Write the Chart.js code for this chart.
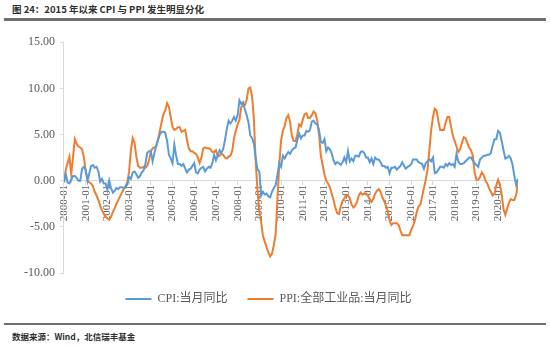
<!DOCTYPE html>
<html><head><meta charset="utf-8">
<script src="https://cdn.jsdelivr.net/npm/chart.js@4.4.0/dist/chart.umd.min.js"></script>
<style>
html,body{margin:0;padding:0;background:#fff;}
#page{position:relative;width:550px;height:347px;overflow:hidden;background:#fff;}
#title{position:absolute;left:12px;top:2px;font:bold 9.5px "Noto Sans CJK SC","DejaVu Sans",sans-serif;color:#2e2e2e;white-space:nowrap;}
#rule1{position:absolute;left:4px;width:542px;top:18px;height:3px;background:#6e6e6e;}
#rule2{position:absolute;left:4px;width:542px;top:323px;height:2px;background:#6e6e6e;}
#source{position:absolute;left:12px;top:330px;font:bold 8.5px "Noto Sans CJK SC","DejaVu Sans",sans-serif;color:#2e2e2e;white-space:nowrap;z-index:2;}
#cv{position:absolute;left:0;top:30px;}
</style></head>
<body><div id="page">
<div id="title">图 24：2015 年以来 CPI 与 PPI 发生明显分化</div>
<div id="rule1"></div>
<canvas id="cv" width="550" height="285"></canvas>
<div id="rule2"></div>
<div id="source">数据来源：Wind，北信瑞丰基金</div>
</div>
<script>
// Monthly YoY values, 2000-01 .. 2020-12
const startYear = 2000;
const tickLabels = ['2000-01','2001-01','2002-01','2003-01','2004-01','2005-01','2006-01','2007-01','2008-01','2009-01','2010-01','2011-01','2012-01','2013-01','2014-01','2015-01','2016-01','2017-01','2018-01','2019-01','2020-01'];
const seriesNames = ['CPI:当月同比', 'PPI:全部工业品:当月同比'];

const cpi2000s = [
 -0.2,0.7,-0.2,-0.3,0.1,0.5,0.5,0.3,0.0,0.0,1.3,1.5,
 1.2,0.0,0.8,1.6,1.7,1.4,1.5,1.0,-0.1,0.2,-0.3,-0.3,
 -1.0,0.0,-0.8,-1.3,-1.1,-0.8,-0.9,-0.7,-0.7,-0.8,-0.7,-0.4,
 0.4,0.2,0.9,1.0,0.7,0.3,0.5,0.9,1.1,1.8,3.0,3.2,
 3.2,2.1,3.0,3.8,4.4,5.0,5.3,5.3,5.2,4.3,2.8,2.4,
 1.9,3.9,2.7,1.8,1.8,1.6,1.8,1.3,0.9,1.2,1.3,1.6,
 1.9,0.9,0.8,1.2,1.4,1.5,1.0,1.3,1.5,1.4,1.9,2.8,
 2.2,2.7,3.3,3.0,3.4,4.4,5.6,6.5,6.2,6.5,6.9,6.5,
 7.1,8.7,8.3,8.5,7.7,7.1,6.3,4.9,4.6,4.0,2.4,1.2,
 1.0,-1.6,-1.2,-1.5,-1.4,-1.7,-1.8,-1.2,-0.8,-0.5,0.6,1.9
];
const cpi2010s = [
 1.5,2.7,2.4,2.8,3.1,2.9,3.3,3.5,3.6,4.4,5.1,4.6,
 4.9,4.9,5.4,5.3,5.5,6.4,6.5,6.2,6.1,5.5,4.2,4.1,
 4.5,3.2,3.6,3.4,3.0,2.2,1.8,2.0,1.9,1.7,2.0,2.5,
 2.0,3.2,2.1,2.4,2.1,2.7,2.7,2.6,3.1,3.2,3.0,2.5,
 2.5,2.0,2.4,1.8,2.5,2.3,2.3,2.0,1.6,1.6,1.4,1.5,
 0.8,1.4,1.4,1.5,1.2,1.4,1.6,2.0,1.6,1.3,1.5,1.6,
 1.8,2.3,2.3,2.3,2.0,1.9,1.8,1.3,1.9,2.1,2.3,2.1,
 2.5,0.8,0.9,1.2,1.5,1.5,1.4,1.8,1.6,1.9,1.7,1.8,
 1.5,2.9,2.1,1.8,1.8,1.9,2.1,2.3,2.5,2.5,2.2,1.9,
 1.7,1.5,2.3,2.5,2.7,2.7,2.8,2.8,3.0,3.8,4.5,4.5,
 5.4,5.2,4.3,3.3,2.4,2.5,2.7,2.4,1.7,0.5,-0.5,0.2
];
const ppi2000s = [
 0.0,1.2,1.9,2.6,0.7,2.6,4.5,4.0,3.7,3.6,3.4,2.5,
 1.0,0.0,-0.2,-0.3,-0.6,-1.2,-1.6,-2.1,-2.7,-3.2,-3.6,-3.9,
 -4.1,-4.2,-3.9,-3.4,-3.0,-2.5,-2.1,-1.7,-1.3,-0.9,-0.6,-0.2,
 1.0,3.3,4.6,4.1,2.6,1.6,1.4,1.4,1.5,1.4,1.6,2.2,
 3.2,3.5,3.6,3.7,4.5,5.4,6.4,7.2,7.6,8.4,8.0,6.9,
 5.8,5.5,5.6,5.8,5.8,5.3,5.4,5.5,4.4,3.5,3.2,3.2,
 3.0,2.9,2.5,1.9,2.5,3.5,3.6,3.5,3.5,3.4,3.1,3.1,
 3.3,2.6,2.7,2.9,2.8,2.5,2.4,2.6,2.7,3.2,4.6,5.4,
 6.1,6.6,8.0,8.1,8.2,8.8,10.0,10.1,9.1,6.6,2.0,-1.1,
 -3.3,-4.5,-6.0,-6.6,-7.2,-7.8,-8.2,-7.9,-7.0,-5.8,-2.1,1.7
];
const ppi2010s = [
 4.3,5.4,5.9,6.8,7.1,6.4,4.8,4.3,4.3,5.0,6.1,5.9,
 6.6,7.2,7.3,6.8,6.8,7.1,7.5,7.3,6.5,5.0,2.7,1.7,
 0.7,0.0,-0.3,-0.7,-1.4,-2.1,-2.9,-3.5,-3.6,-2.8,-2.2,-1.9,
 -1.6,-1.6,-1.9,-2.6,-2.9,-2.7,-2.3,-1.6,-1.3,-1.5,-1.4,-1.4,
 -1.6,-2.0,-2.3,-2.0,-1.4,-1.1,-0.9,-1.2,-1.8,-2.2,-2.7,-3.3,
 -4.3,-4.8,-4.6,-4.6,-4.6,-4.8,-5.4,-5.9,-5.9,-5.9,-5.9,-5.9,
 -5.3,-4.9,-4.3,-3.4,-2.8,-2.6,-1.7,-0.8,0.1,1.2,3.3,5.5,
 6.9,7.8,7.6,6.4,5.5,5.5,5.5,6.3,6.9,6.9,5.8,4.9,
 4.3,3.7,3.1,3.4,4.1,4.7,4.6,4.1,3.6,3.3,2.7,0.9,
 0.1,0.1,0.4,0.9,0.6,0.0,-0.3,-0.8,-1.2,-1.6,-1.4,-0.5,
 0.1,-0.4,-1.5,-3.1,-3.7,-3.0,-2.4,-2.0,-2.1,-2.1,-1.5,-0.4
];

const cpi = cpi2000s.concat(cpi2010s);
const ppi = ppi2000s.concat(ppi2010s);
const toPts = arr => arr.map((v, i) => ({x: i, y: v}));
const lastIndex = cpi.length - 1;

const serif = "'Liberation Serif', 'Noto Sans CJK SC', serif";
const grey = '#595959';
const axisColor = '#d9d9d9';

new Chart(document.getElementById('cv'), {
  type: 'line',
  data: {
    datasets: [
      {label: seriesNames[0], data: toPts(cpi), borderColor: '#5B9BD5', backgroundColor: '#5B9BD5', borderWidth: 2, pointRadius: 0, tension: 0, fill: false},
      {label: seriesNames[1], data: toPts(ppi), borderColor: '#ED7D31', backgroundColor: '#ED7D31', borderWidth: 2, pointRadius: 0, tension: 0, fill: false}
    ]
  },
  options: {
    responsive: false,
    animation: false,
    devicePixelRatio: 1,
    layout: {padding: {left: 19, right: 32, top: 12, bottom: 0}},
    plugins: {
      tooltip: {enabled: false},
      legend: {
        position: 'bottom',
        labels: {
          usePointStyle: true, pointStyle: 'line', pointStyleWidth: 26,
          color: grey, font: {family: serif, size: 12}, padding: 20
        }
      }
    },
    scales: {
      x: {
        type: 'linear',
        position: {y: 0},
        min: 0, max: lastIndex,
        afterBuildTicks: s => { s.ticks = tickLabels.map((_, i) => ({value: i * 12})); },
        grid: {display: true, drawOnChartArea: false, drawTicks: true, tickLength: 4, color: axisColor},
        border: {display: true, color: axisColor, width: 1},
        ticks: {
          autoSkip: false,
          maxRotation: 90, minRotation: 90, padding: 0,
          color: grey, font: {family: serif, size: 11},
          callback: v => tickLabels[Math.round(v / 12)] || ''
        }
      },
      y: {
        min: -10, max: 15,
        grid: {display: true, drawOnChartArea: false, drawTicks: true, tickLength: 4, color: axisColor},
        border: {display: true, color: axisColor, width: 1},
        ticks: {stepSize: 5, padding: 5, color: grey, font: {family: serif, size: 12}, callback: v => v.toFixed(2)}
      }
    }
  }
});
</script>
</body></html>
